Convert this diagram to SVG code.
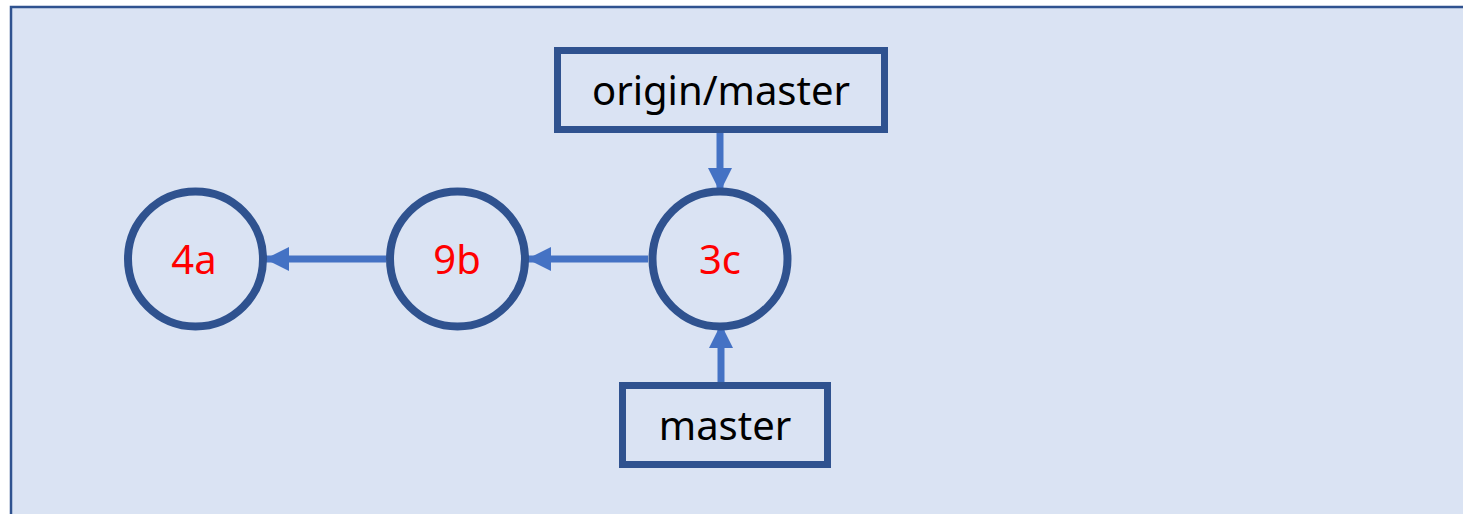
<svg xmlns="http://www.w3.org/2000/svg" width="1463" height="514" viewBox="0 0 1463 514">
<defs>
<style>
.bg{fill:#DAE3F3;stroke:#2F528F;stroke-width:2.5}
.commit{fill:none;stroke:#2F528F;stroke-width:8}
.ref{fill:none;stroke:#2F528F;stroke-width:7}
.ctext{font-family:"Noto Sans",sans-serif;font-size:40px;fill:#FF0000;text-anchor:middle}
.rtext{font-family:"Noto Sans",sans-serif;font-size:40px;fill:#000000;text-anchor:middle}
.conn{stroke:#4472C4;stroke-width:7;fill:none}
</style>
<marker id="ah" markerUnits="userSpaceOnUse" viewBox="0 0 24 24" markerWidth="24" markerHeight="24" refX="24" refY="12" orient="auto">
<path d="M0,0 L24,12 L0,24 Z" fill="#4472C4"/>
</marker>
</defs>
<rect class="bg" x="11" y="7" width="1470" height="520"/>
<g id="connectors">
<line class="conn" x1="386" y1="259" x2="265" y2="259" marker-end="url(#ah)"/>
<line class="conn" x1="648" y1="259" x2="527" y2="259" marker-end="url(#ah)"/>
<line class="conn" x1="720" y1="133" x2="720" y2="192" marker-end="url(#ah)"/>
<line class="conn" x1="721" y1="382" x2="721" y2="324" marker-end="url(#ah)"/>
</g>
<g id="c4a">
<circle class="commit" cx="195.5" cy="259" r="67.5"/>
<text class="ctext" x="194" y="274">4a</text>
</g>
<g id="c9b">
<circle class="commit" cx="457.5" cy="259" r="67.5"/>
<text class="ctext" x="457" y="274">9b</text>
</g>
<g id="c3c">
<circle class="commit" cx="720" cy="259" r="67.5"/>
<text class="ctext" x="720" y="274">3c</text>
</g>
<g id="origin-master">
<rect class="ref" x="557.5" y="50.5" width="327" height="79"/>
<text class="rtext" x="721" y="105">origin/master</text>
</g>
<g id="master">
<rect class="ref" x="622.5" y="385.5" width="205" height="79"/>
<text class="rtext" x="725" y="440">master</text>
</g>
</svg>
